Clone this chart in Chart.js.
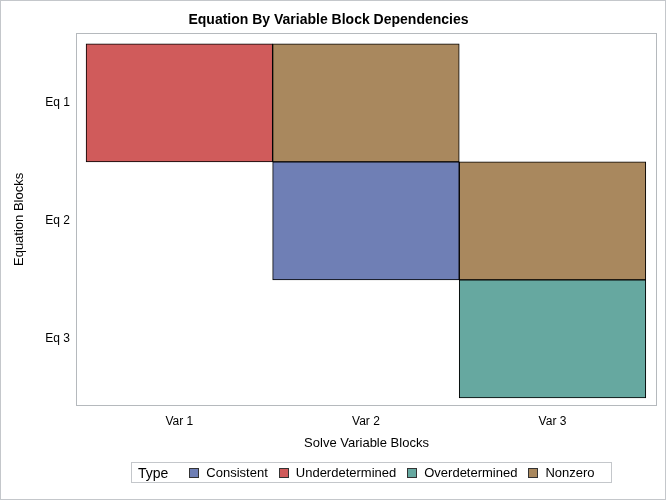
<!DOCTYPE html>
<html lang="en">
<head>
    <meta charset="UTF-8">
    <title>Equation By Variable Block Dependencies</title>
    <script src="https://cdn.jsdelivr.net/npm/chart.js"></script>
    <style>
        body { margin: 0; background: #fff; }
        #wrap { position: relative; width: 666px; height: 500px; }
        #legend {
            position: absolute; left: 131px; top: 462px; width: 481px; height: 21px;
            box-sizing: border-box; border: 1px solid #c4c7cb;
            display: flex; align-items: center;
            font-family: "Liberation Sans", Arial, sans-serif; font-size: 13px; color: #000;
        }
        #legend .ttl { font-size: 14px; margin-left: 6px; margin-right: 21px; }
        #legend .sw { width: 8px; height: 8px; border: 1px solid #333; margin-right: 7px; }
        #legend .lb { margin-right: 11px; }
    </style>
</head>
<body>
<div id="wrap">
    <canvas id="chart" width="666" height="500"></canvas>
    <div id="legend"></div>
</div>
<script>
    // Ejes
    const varLabels = ['Var 1', 'Var 2', 'Var 3'];
    const eqLabels = ['Eq 1', 'Eq 2', 'Eq 3'];

    // Tipos (orden de la leyenda) y colores
    const types = ['Consistent', 'Underdetermined', 'Overdetermined', 'Nonzero'];
    const typeColors = ['#6f7fb5', '#d05b5b', '#66a8a0', '#a9885e'];

    // Celdas: variable, ecuación, tipo
    const cellVar = [1, 2, 2, 3, 3];
    const cellEq = [1, 1, 2, 2, 3];
    const cellType = ['Underdetermined', 'Nonzero', 'Consistent', 'Nonzero', 'Overdetermined'];

    const FONT = '"Liberation Sans", Arial, sans-serif';

    const datasets = types.map((t, i) => ({
        label: t,
        data: cellType.map((ct, k) => ct === t ? { x: cellVar[k], y: [cellEq[k] - 0.5, cellEq[k] + 0.5] } : null)
            .filter(d => d),
        backgroundColor: typeColors[i],
        borderColor: '#000',
        borderWidth: 1,
        borderSkipped: false,
        grouped: false,
        barPercentage: 1,
        categoryPercentage: 1
    }));

    // Marco del área de trazado y borde exterior
    const framePlugin = {
        id: 'frame',
        beforeDraw(chart) {
            const ctx = chart.ctx;
            ctx.save();
            ctx.strokeStyle = '#c4c7cb';
            ctx.lineWidth = 1;
            ctx.strokeRect(0.5, 0.5, chart.width - 1, chart.height - 1);
            ctx.restore();
        },
        afterDatasetsDraw(chart) {
            const a = chart.chartArea;
            const ctx = chart.ctx;
            ctx.save();
            ctx.strokeStyle = '#b5b9bd';
            ctx.lineWidth = 1;
            ctx.strokeRect(Math.round(a.left) + 0.5, Math.round(a.top) + 0.5,
                Math.round(a.right - a.left) - 1, Math.round(a.bottom - a.top) - 1);
            ctx.restore();
        }
    };

    new Chart(document.getElementById('chart'), {
        type: 'bar',
        data: { datasets },
        options: {
            responsive: false,
            animation: false,
            layout: { padding: { left: 0, right: 9, top: 0, bottom: 44 } },
            plugins: {
                legend: { display: false },
                tooltip: { enabled: false },
                title: {
                    display: true,
                    text: 'Equation By Variable Block Dependencies',
                    color: '#000',
                    font: { family: FONT, size: 14, weight: 'bold' },
                    padding: { top: 12, bottom: 4 }
                }
            },
            scales: {
                x: {
                    type: 'linear',
                    offset: false,
                    min: 0.446,
                    max: 3.56,
                    grid: { display: false, drawTicks: false },
                    border: { display: false },
                    afterBuildTicks: s => { s.ticks = varLabels.map((l, i) => ({ value: i + 1 })); },
                    afterFit: s => { s.height = 50; },
                    ticks: {
                        padding: 8,
                        color: '#000',
                        font: { family: FONT, size: 12 },
                        callback: v => varLabels[v - 1]
                    },
                    title: {
                        display: true,
                        text: 'Solve Variable Blocks',
                        color: '#000',
                        font: { family: FONT, size: 13 },
                        padding: { top: 0, bottom: 5 }
                    }
                },
                y: {
                    type: 'linear',
                    reverse: true,
                    min: 0.407,
                    max: 3.568,
                    grid: { display: false, drawTicks: false },
                    border: { display: false },
                    afterBuildTicks: s => { s.ticks = eqLabels.map((l, i) => ({ value: i + 1 })); },
                    afterFit: s => { s.width = 76; },
                    ticks: {
                        padding: 6,
                        color: '#000',
                        font: { family: FONT, size: 12 },
                        callback: v => eqLabels[v - 1]
                    },
                    title: {
                        display: true,
                        text: 'Equation Blocks',
                        color: '#000',
                        font: { family: FONT, size: 13 },
                        padding: { top: 12, bottom: 0 }
                    }
                }
            }
        },
        plugins: [framePlugin]
    });

    // Leyenda en HTML
    const legend = document.getElementById('legend');
    legend.innerHTML = '<span class="ttl">Type</span>' + types.map((t, i) =>
        `<span class="sw" style="background:${typeColors[i]}"></span><span class="lb">${t}</span>`).join('');
</script>
</body>
</html>
